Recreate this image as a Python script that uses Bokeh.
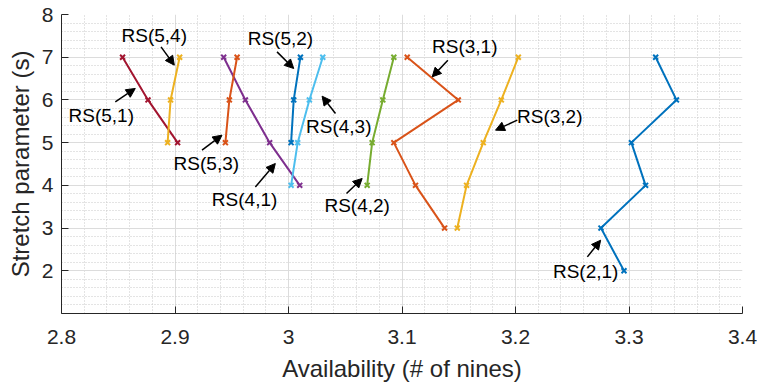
from bokeh.plotting import figure
from bokeh.models import Arrow, NormalHead, FixedTicker, Range1d
from bokeh.core.properties import value
from bokeh.embed import file_html
from bokeh.resources import INLINE

# ---- data ----
names = ["RS(2,1)", "RS(3,1)", "RS(3,2)", "RS(4,1)", "RS(4,2)", "RS(4,3)",
         "RS(5,1)", "RS(5,2)", "RS(5,3)", "RS(5,4)"]
s_21 = [2, 3, 4, 5, 6, 7]
a_21 = [3.2956, 3.2753, 3.3146, 3.3021, 3.3418, 3.3235]
s_31 = [3, 4, 5, 6, 7]
a_31 = [3.1375, 3.1119, 3.0928, 3.1496, 3.1046]
s_32 = [3, 4, 5, 6, 7]
a_32 = [3.1487, 3.1569, 3.1716, 3.1875, 3.2025]
s_41 = [4, 5, 6, 7]
a_41 = [3.0099, 2.9834, 2.9620, 2.9429]
s_42 = [4, 5, 6, 7]
a_42 = [3.0693, 3.0737, 3.0831, 3.0928]
s_43 = [4, 5, 6, 7]
a_43 = [3.0023, 3.0081, 3.0184, 3.0302]
s_51 = [5, 6, 7]
a_51 = [2.9023, 2.8762, 2.8538]
s_52 = [5, 6, 7]
a_52 = [3.0023, 3.0046, 3.0105]
s_53 = [5, 6, 7]
a_53 = [2.9444, 2.9479, 2.9547]
s_54 = [5, 6, 7]
a_54 = [2.8935, 2.8961, 2.9041]

series_s = [s_21, s_31, s_32, s_41, s_42, s_43, s_51, s_52, s_53, s_54]
series_a = [a_21, a_31, a_32, a_41, a_42, a_43, a_51, a_52, a_53, a_54]
colors = ["#0072BD", "#D95319", "#EDB120", "#7E2F8E", "#77AC30", "#4DBEEE",
          "#A2142F", "#0072BD", "#D95319", "#EDB120"]

# annotation label centres and arrow (tail -> head), data coordinates
label_x = [3.2618, 3.1553, 3.2302, 2.9613, 3.0605, 3.0443, 2.8350, 2.9929, 2.9276, 2.8817]
label_y = [1.974, 7.242, 5.603, 3.676, 3.536, 5.370, 5.640, 7.440, 4.510, 7.500]
arrow_x0 = [3.2633, 3.1404, 3.2016, 2.9708, 3.0511, 3.0414, 2.8474, 2.9899, 2.9238, 2.8877]
arrow_y0 = [2.325, 6.931, 5.526, 3.964, 3.810, 5.683, 5.954, 7.125, 4.823, 7.242]
arrow_x1 = [3.2750, 3.1266, 3.1824, 2.9884, 3.0649, 3.0296, 2.8650, 3.0046, 2.9414, 2.8994]
arrow_y1 = [2.716, 6.540, 5.292, 4.512, 4.161, 6.088, 6.268, 6.736, 5.175, 6.814]

x_ticks = [2.8, 2.9, 3.0, 3.1, 3.2, 3.3, 3.4]
y_ticks = [2, 3, 4, 5, 6, 7, 8]

FONT = "Liberation Sans"
TXT = "#262626"

p = figure(width=757, height=385, output_backend="svg", toolbar_location=None,
           x_range=Range1d(2.8, 3.4), y_range=Range1d(1, 8),
           min_border_left=61, min_border_right=15, min_border_top=14,
           min_border_bottom=72)
p.outline_line_color = None
p.background_fill_color = "white"
p.border_fill_color = "white"

p.xaxis.ticker = FixedTicker(ticks=x_ticks,
                             minor_ticks=[2.8 + 0.02 * i for i in range(31)])
p.yaxis.ticker = FixedTicker(ticks=y_ticks,
                             minor_ticks=[1 + 0.2 * i for i in range(36)])
p.xaxis.major_label_overrides = {2.8: "2.8", 2.9: "2.9", 3.0: "3", 3.1: "3.1",
                                 3.2: "3.2", 3.3: "3.3", 3.4: "3.4"}

for ax in (p.xaxis, p.yaxis):
    ax.axis_line_color = TXT
    ax.axis_line_width = 1
    ax.major_tick_in = 7
    ax.major_tick_out = 0
    ax.major_tick_line_color = TXT
    ax.minor_tick_in = 0
    ax.minor_tick_out = 0
    ax.major_label_text_font = FONT
    ax.major_label_text_font_size = "21px"
    ax.major_label_text_color = TXT
    ax.axis_label_text_font = FONT
    ax.axis_label_text_font_size = "24px"
    ax.axis_label_text_font_style = "normal"
    ax.axis_label_text_color = TXT

p.xaxis.axis_label = "Availability (# of nines)"
p.yaxis.axis_label = "Stretch parameter (s)"
p.xaxis.major_label_standoff = 16
p.xaxis.axis_label_standoff = 8
p.yaxis.major_label_standoff = 8
p.yaxis.axis_label_standoff = 5

for g in (p.xgrid, p.ygrid):
    g.grid_line_color = "#dcdcdc"
    g.grid_line_width = 1
    g.minor_grid_line_color = "#c8c8c8"
    g.minor_grid_line_dash = "1 2"
    g.minor_grid_line_width = 1

for s, a, c in zip(series_s, series_a, colors):
    p.line(a, s, line_color=c, line_width=2)
    p.scatter(a, s, marker="x", size=7, line_color=c, line_width=2)

for i in range(len(names)):
    p.add_layout(Arrow(end=NormalHead(size=9, fill_color="black", line_color="black"),
                       x_start=arrow_x0[i], y_start=arrow_y0[i],
                       x_end=arrow_x1[i], y_end=arrow_y1[i],
                       line_color="black", line_width=1.5))

p.text(x=label_x, y=label_y, text=names, text_font=value(FONT),
       text_font_size="19px", text_color="black", text_align="center",
       text_baseline="middle")

open("out.html", "w").write(file_html(p, INLINE))
